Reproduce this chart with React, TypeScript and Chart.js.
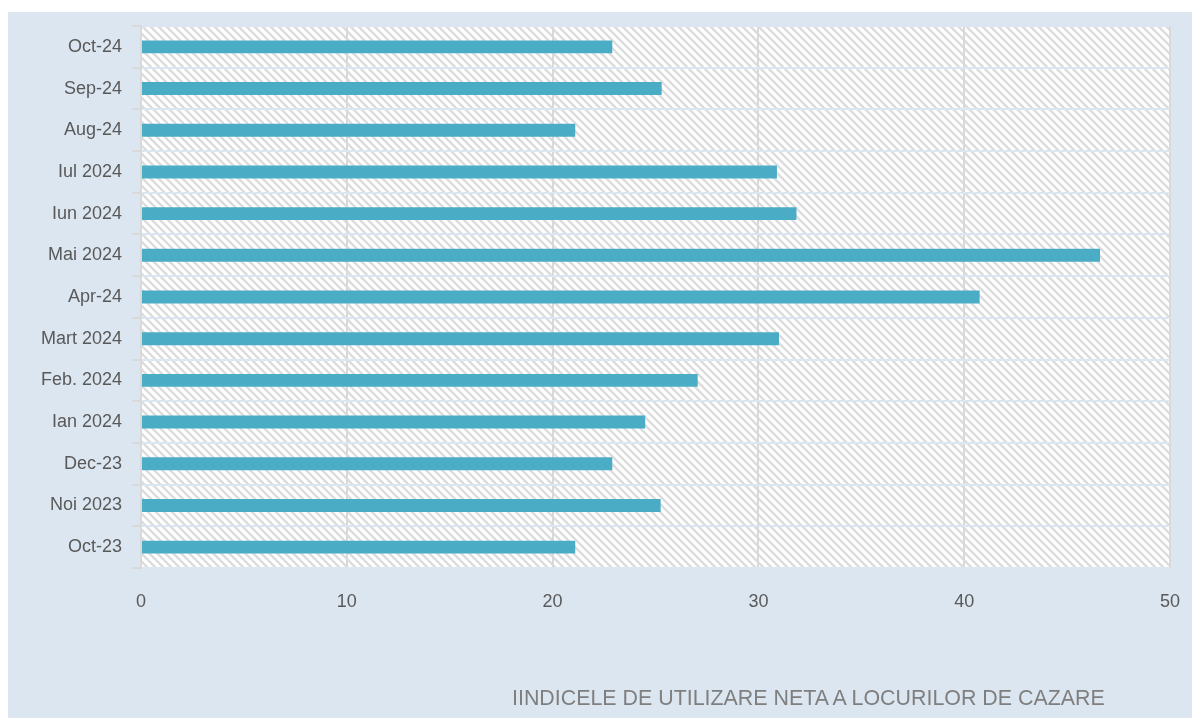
import React, { useEffect, useRef } from "react";
import { Chart, registerables } from "chart.js";

Chart.register(...registerables);

const categories = [
  "Oct-24",
  "Sep-24",
  "Aug-24",
  "Iul 2024",
  "Iun 2024",
  "Mai 2024",
  "Apr-24",
  "Mart 2024",
  "Feb. 2024",
  "Ian 2024",
  "Dec-23",
  "Noi 2023",
  "Oct-23",
];
const values = [22.9, 25.3, 21.1, 30.9, 31.85, 46.6, 40.75, 31.0, 27.05, 24.5, 22.9, 25.25, 21.1];
const xTicks = [0, 10, 20, 30, 40, 50];
const titleText = "IINDICELE DE UTILIZARE NETA A LOCURILOR DE CAZARE";

function makePattern(): CanvasPattern | string {
  const c = document.createElement("canvas");
  c.width = 8;
  c.height = 8;
  const g = c.getContext("2d");
  if (!g) return "#ffffff";
  g.fillStyle = "#ffffff";
  g.fillRect(0, 0, 8, 8);
  g.strokeStyle = "#dcdcdc";
  g.lineWidth = 2.4;
  for (const off of [-8, 0, 8]) {
    g.beginPath();
    g.moveTo(off - 1, -1);
    g.lineTo(off + 9, 9);
    g.stroke();
  }
  const p = g.createPattern(c, "repeat");
  return p || "#ffffff";
}

export default function App() {
  const ref = useRef<HTMLCanvasElement | null>(null);

  useEffect(() => {
    document.documentElement.style.overflow = "hidden";
    document.body.style.overflow = "hidden";
    if (!ref.current) return;
    const pattern = makePattern();
    const hatch = {
      id: "hatch",
      beforeDraw(chart: any) {
        const { ctx, chartArea } = chart;
        ctx.save();
        ctx.fillStyle = pattern;
        ctx.fillRect(chartArea.left, chartArea.top, chartArea.right - chartArea.left, chartArea.bottom - chartArea.top);
        ctx.restore();
      },
    };
    const chart = new Chart(ref.current, {
      type: "bar",
      data: {
        labels: categories,
        datasets: [
          {
            data: values,
            backgroundColor: "#4bacc6",
            borderWidth: 0,
            barPercentage: 0.62,
            categoryPercentage: 0.5,
          },
        ],
      },
      options: {
        indexAxis: "y",
        animation: false,
        responsive: false,
        maintainAspectRatio: false,
        layout: { padding: { top: 14, right: 22, left: 0, bottom: 0 } },
        plugins: {
          legend: { display: false },
          tooltip: { enabled: false },
          title: { display: false },
        },
        scales: {
          x: {
            min: 0,
            max: 50,
            afterBuildTicks: (scale: any) => {
              scale.ticks = xTicks.map((v) => ({ value: v }));
            },
            afterFit: (scale: any) => {
              scale.height = 150;
              scale.paddingLeft = 0;
              scale.paddingRight = 0;
            },
            grid: {
              color: "#d9d9d9",
              lineWidth: 2,
              drawTicks: false,
            },
            border: { display: false },
            ticks: {
              color: "#595959",
              font: { family: "'Liberation Sans', Arial, sans-serif", size: 18 },
              padding: 23,
            },
          },
          y: {
            afterFit: (scale: any) => {
              scale.width = 133;
              scale.paddingTop = 0;
              scale.paddingBottom = 0;
            },
            grid: {
              color: "#dce6f1",
              lineWidth: 2,
              tickColor: "#d9d9d9",
              tickLength: 9,
              offset: true,
            },
            border: { display: true, color: "#d9d9d9", width: 2 },
            ticks: {
              color: "#595959",
              font: { family: "'Liberation Sans', Arial, sans-serif", size: 18 },
              padding: 10,
            },
          },
        },
      },
      plugins: [hatch],
    });
    return () => chart.destroy();
  }, []);

  return (
    <div
      style={{
        position: "fixed",
        left: 8,
        top: 12,
        right: 0,
        bottom: 0,
        background: "#dce6f1",
      }}
    >
      <canvas ref={ref} width={1184} height={706} style={{ display: "block" }} />
      <div
        style={{
          position: "absolute",
          left: 504,
          top: 674,
          fontFamily: "'Liberation Sans', Arial, sans-serif",
          fontSize: 21.4,
          lineHeight: "24px",
          color: "#7f7f7f",
          whiteSpace: "nowrap",
        }}
      >
        {titleText}
      </div>
    </div>
  );
}
